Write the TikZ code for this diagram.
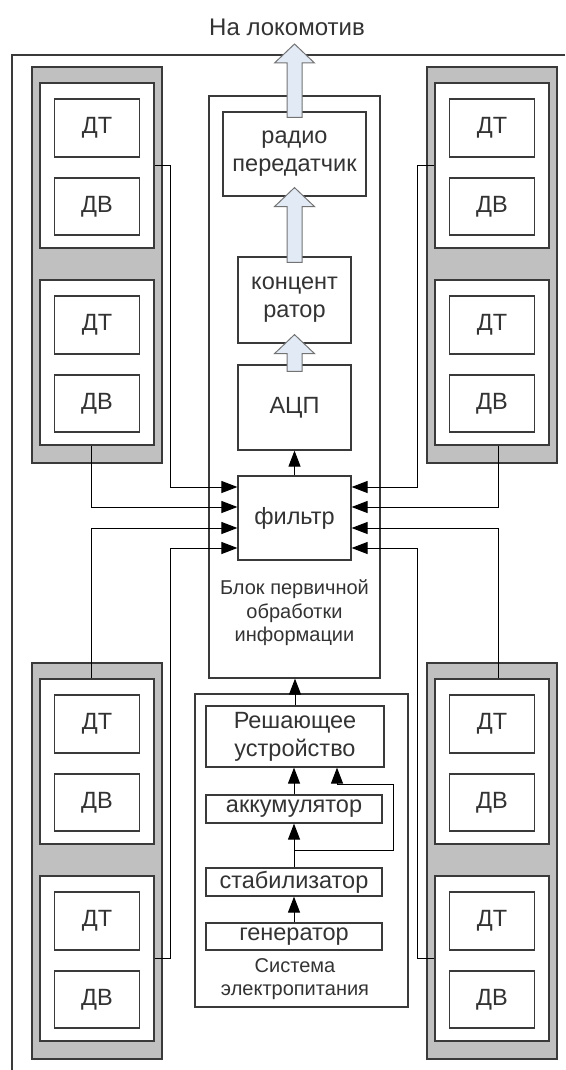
\documentclass[tikz,border=0pt]{standalone}
\usepackage{fontspec}
\setmainfont{Liberation Sans}
\usetikzlibrary{positioning, arrows.meta, calc}

\definecolor{linegray}{HTML}{3A3A3A}
\definecolor{grpgray}{HTML}{C0C0C0}
\definecolor{arrowfill}{HTML}{E2EAF6}

% hollow block arrow from #1 (shaft end) up to #2 (tip)
\newcommand{\fatarrow}[2]{%
  \draw[fill=arrowfill, draw=black!55, line width=1pt] let \p1=(#1), \p2=(#2) in
    (\x1-7.5pt,\y1) -- (\x1-7.5pt,\y2-19pt) -- (\x1-20pt,\y2-19pt) -- (\x2,\y2)
    -- (\x1+20pt,\y2-19pt) -- (\x1+7.5pt,\y2-19pt) -- (\x1+7.5pt,\y1) -- cycle;}

\begin{document}
\begin{tikzpicture}[x=1pt, y=-1pt,
    box/.style={draw=linegray, line width=1.2pt, inner sep=0pt, align=center, text=black!80, font=\fontsize{23.5}{28}\selectfont},
    grp/.style={draw=linegray, fill=grpgray, line width=1.2pt, minimum width=130, minimum height=396, inner sep=0pt},
    wbox/.style={draw=linegray, fill=white, line width=1.5pt, minimum width=114, minimum height=165, inner sep=0pt},
    lbl/.style={align=center, text=black!80, font=\fontsize{20}{23.5}\selectfont},
    sig/.style={draw=black, line width=1pt, ->, >={Triangle[length=16pt, width=12pt]}}]
    \useasboundingbox (0,0) rectangle (565,1070);

    % frame and title
    \draw[draw=linegray, line width=1.2pt] (565,55) -- (12,55) -- (12,1070);
    \node[text=black!80, font=\fontsize{24}{28}\selectfont] (loco) at (287,27) {На локомотив};
    \coordinate (out) at (294.5,44);

    % primary processing block
    \node[box, minimum width=171, minimum height=582] (main) at (294.5,387) {};
    \node[lbl] (mainlbl) at (294.5,613) {Блок первичной\\обработки\\информации};
    \node[box, minimum width=143, minimum height=84] (radio) at (294.5,154) {радио\\передатчик};
    \node[box, minimum width=113, minimum height=86] (conc) at (294.5,300) {концент\\ратор};
    \node[box, minimum width=113, minimum height=85] (acp) at (294.5,407.5) {АЦП};
    \node[box, minimum width=113, minimum height=84] (filt) at (294.5,518) {фильтр};

    \fatarrow{$(radio.north)+(0,6)$}{out}
    \fatarrow{$(conc.north)+(0,6)$}{$(radio.south)+(0,-9)$}
    \fatarrow{$(acp.north)+(0,7)$}{$(conc.south)+(0,-9)$}
    \draw[sig] (filt.north) -- (acp.south);

    % sensor groups
    \foreach \g/\gx/\gy in {lt/97/67, rt/492/67, lb/97/663, rb/492/663} {
        \node[grp] (\g) at (\gx,\gy+198) {};
        \node[wbox] (\g-w1) at (\gx,\gy+98.5) {};
        \node[wbox] (\g-w2) at (\gx,\gy+295.5) {};
        \node[box, minimum width=85, minimum height=58] (\g-dt1) at (\gx,\gy+61) {ДТ};
        \node[box, minimum width=85, minimum height=57] (\g-dv1) at (\gx,\gy+139.5) {ДВ};
        \node[box, minimum width=85, minimum height=58] (\g-dt2) at (\gx,\gy+258) {ДТ};
        \node[box, minimum width=85, minimum height=57] (\g-dv2) at (\gx,\gy+336.5) {ДВ};
    }

    % signals into the filter
    \draw[sig] (lt-w1.east) -- ++(16,0) |- ([yshift=31pt]filt.west);
    \draw[sig] ([xshift=-6pt]lt-w2.south) |- ([yshift=11pt]filt.west);
    \draw[sig] ([xshift=-6pt]lb-w1.north) |- ([yshift=-10pt]filt.west);
    \draw[sig] (lb-w2.east) -- ++(16,0) |- ([yshift=-30pt]filt.west);
    \draw[sig] (rt-w1.west) -- ++(-17,0) |- ([yshift=31pt]filt.east);
    \draw[sig] ([xshift=6pt]rt-w2.south) |- ([yshift=11pt]filt.east);
    \draw[sig] ([xshift=6pt]rb-w1.north) |- ([yshift=-10pt]filt.east);
    \draw[sig] (rb-w2.west) -- ++(-17,0) |- ([yshift=-30pt]filt.east);

    % power supply
    \node[box, minimum width=213, minimum height=313] (pwr) at (301.5,850.5) {};
    \node[lbl] (pwrlbl) at (295,979) {Система\\электропитания};
    \node[box, minimum width=178, minimum height=61] (resh) at (295,736.5) {Решающее\\устройство};
    \node[box, minimum width=176, minimum height=28] (akk) at (294,809) {аккумулятор};
    \node[box, minimum width=176, minimum height=28] (stab) at (294,882) {стабилизатор};
    \node[box, minimum width=176, minimum height=27] (gen) at (294,936.5) {генератор};
    \coordinate (br) at ($(stab.north)+(0,-17)$);

    \draw[sig] (gen.north) -- (stab.south);
    \draw[sig] (stab.north) -- (akk.south);
    \draw[sig] (akk.north) -- (akk.north |- resh.south);
    \draw[sig] (br) -| ($(akk.north east)+(11,-10)$) -| ([xshift=42pt]resh.south);
    \draw[sig] (resh.north) -- (resh.north |- main.south);
\end{tikzpicture}
\end{document}
